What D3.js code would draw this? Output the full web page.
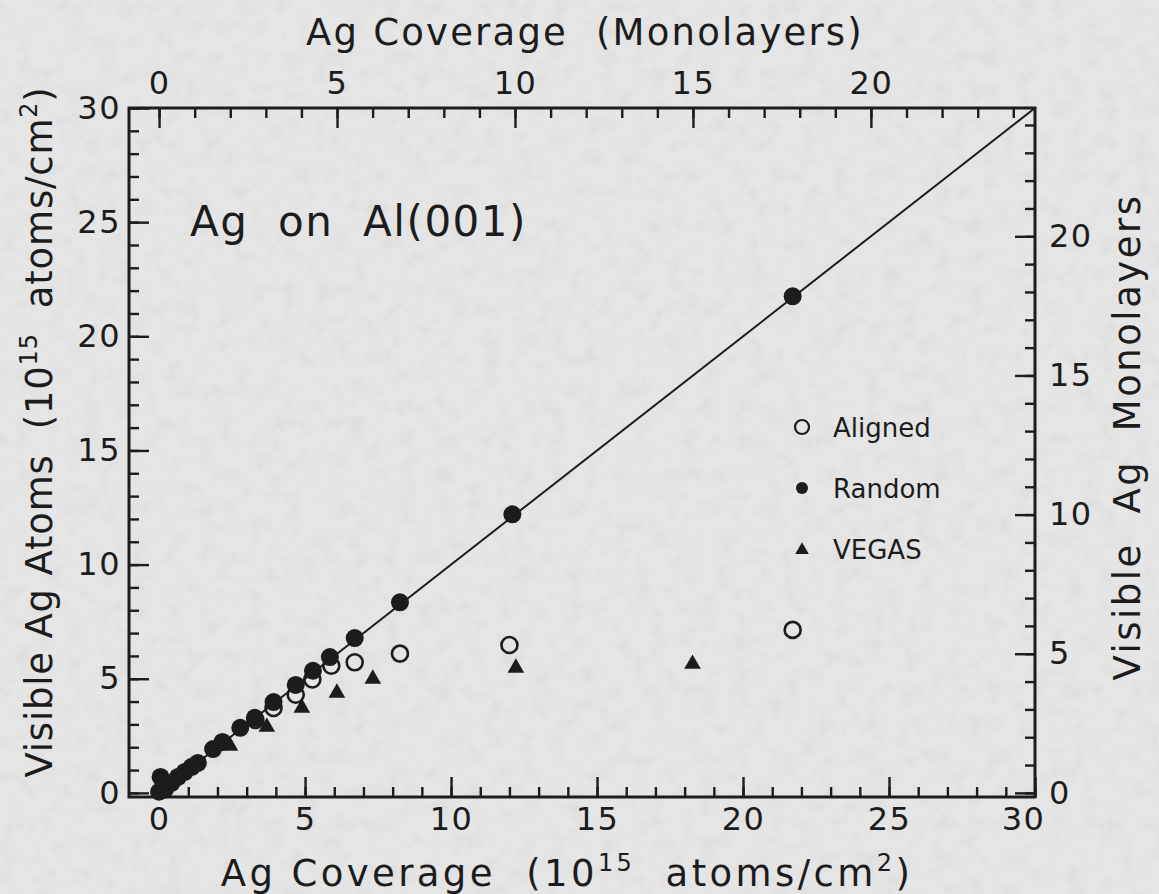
<!DOCTYPE html>
<html>
<head>
<meta charset="utf-8">
<script src="https://cdn.jsdelivr.net/npm/d3@7"></script>
<style>
  html, body { margin: 0; padding: 0; background: #e4e4e4; }
  svg { display: block; }
  text { font-family: "DejaVu Sans", "Liberation Sans", sans-serif; fill: #1c1c1c; }
</style>
</head>
<body>
<svg id="chart" width="1159" height="894"></svg>
<script>
// Surface atom density of Al(001), in 10^15 atoms/cm^2 per monolayer
const monolayer = 1.219;

// Aligned-geometry measurements: [coverage, visible atoms] (10^15 atoms/cm^2)
const alignedX = [21.7, 12.0, 8.25, 6.7, 5.9, 5.25, 4.68, 3.92, 3.3];
const alignedY = [7.14, 6.48, 6.1, 5.72, 5.57, 4.97, 4.3, 3.72, 3.2];

// Random-geometry measurements
const randomX = [21.7, 12.1, 8.25, 6.7, 5.85, 5.27, 4.68, 3.92, 3.28, 2.78, 2.17, 1.85, 1.33, 1.12, 0.88, 0.65, 0.43, 0.05, 0.0, 0.2];
const randomY = [21.75, 12.2, 8.35, 6.78, 5.95, 5.35, 4.73, 3.98, 3.29, 2.85, 2.23, 1.92, 1.31, 1.14, 0.92, 0.7, 0.44, 0.7, 0.05, 0.15];

// VEGAS simulation results
const vegasX = [18.27, 12.22, 7.32, 6.09, 4.89, 3.69, 2.43];
const vegasY = [5.69, 5.52, 5.04, 4.42, 3.77, 2.93, 2.1];

// Tick values
const atomMajor = [0, 5, 10, 15, 20, 25, 30];
const atomMinor = d3.range(0, 31, 1);
const mlMajor = [0, 5, 10, 15, 20];
const mlMinor = d3.range(0, 25, 1);

const legendItems = ["Aligned", "Random", "VEGAS"];

const svg = d3.select("#chart");

// Paper texture
const defs = svg.append("defs");
const flt = defs.append("filter").attr("id", "paper").attr("x", 0).attr("y", 0).attr("width", "100%").attr("height", "100%");
flt.append("feTurbulence").attr("type", "fractalNoise").attr("baseFrequency", 0.06).attr("numOctaves", 3).attr("seed", 7).attr("result", "n");
flt.append("feColorMatrix").attr("type", "matrix")
  .attr("values", "0 0 0 0 0  0 0 0 0 0  0 0 0 0 0  0 0 0 -0.9 0.5");
svg.append("rect").attr("width", 1159).attr("height", 894).attr("fill", "#e5e5e5");
svg.append("rect").attr("width", 1159).attr("height", 894).attr("filter", "url(#paper)").attr("opacity", 0.07);

const L = 129, R = 1035, T = 108, B = 797;
const x = d3.scaleLinear().domain([-1.03, 30]).range([L, R]);
const y = d3.scaleLinear().domain([-0.18, 30]).range([B, T]);
const xML = d3.scaleLinear().domain(x.domain().map(v => v / monolayer)).range([L, R]);
const yML = d3.scaleLinear().domain(y.domain().map(v => v / monolayer)).range([B, T]);

const ink = "#1c1c1c";

function styleAxis(g, fontSize) {
  g.select(".domain").remove();
  g.selectAll(".tick line").attr("stroke", ink).attr("stroke-width", 2.4);
  g.selectAll(".tick text").attr("font-size", fontSize).attr("fill", ink).attr("letter-spacing", 1.5);
}

function drawAxis(axisFn, scale, major, minor, transform, pad) {
  svg.append("g").attr("transform", transform)
    .call(axisFn(scale).tickValues(minor).tickSize(-10).tickFormat(""))
    .call(g => styleAxis(g, 0));
  svg.append("g").attr("transform", transform).attr("class", "major")
    .call(axisFn(scale).tickValues(major).tickSize(-20).tickPadding(pad).tickFormat(d3.format("d")))
    .call(g => styleAxis(g, 32));
}

drawAxis(d3.axisBottom, x, atomMajor, atomMinor, `translate(0,${B})`, 10);
drawAxis(d3.axisLeft, y, atomMajor, atomMinor, `translate(${L},0)`, 8);
drawAxis(d3.axisTop, xML, mlMajor, mlMinor, `translate(0,${T})`, 14);
drawAxis(d3.axisRight, yML, mlMajor, mlMinor, `translate(${R},0)`, 14);

// Keep the last bottom label clear of the right-hand "0"
svg.selectAll("g.major .tick text").filter(function (d) {
  return d === 30 && this.parentNode.parentNode.getAttribute("transform") === `translate(0,${B})`;
}).attr("dx", -12);

// Frame
svg.append("rect").attr("x", L).attr("y", T).attr("width", R - L).attr("height", B - T)
  .attr("fill", "none").attr("stroke", ink).attr("stroke-width", 3);

// y = x reference line
svg.append("line")
  .attr("x1", x(0)).attr("y1", y(0)).attr("x2", x(30)).attr("y2", y(30))
  .attr("stroke", ink).attr("stroke-width", 2);

// Data marks
const tri = d3.symbol().type(d3.symbolTriangle);
const zip = (a, b) => a.map((v, i) => [v, b[i]]);

svg.append("g").selectAll("circle").data(zip(alignedX, alignedY)).join("circle")
  .attr("cx", d => x(d[0])).attr("cy", d => y(d[1])).attr("r", 8)
  .attr("fill", "none").attr("stroke", ink).attr("stroke-width", 2.6);

svg.append("g").selectAll("circle").data(zip(randomX, randomY)).join("circle")
  .attr("cx", d => x(d[0])).attr("cy", d => y(d[1])).attr("r", 9)
  .attr("fill", ink);

svg.append("g").selectAll("path").data(zip(vegasX, vegasY)).join("path")
  .attr("transform", d => `translate(${x(d[0])},${y(d[1]) + 1})`)
  .attr("d", tri.size(120)).attr("fill", ink);

// Legend
const lg = svg.append("g").attr("transform", "translate(802,427)");
legendItems.forEach((name, i) => {
  const row = lg.append("g").attr("transform", `translate(0,${i * 61})`);
  if (i === 0) row.append("circle").attr("r", 7).attr("fill", "none").attr("stroke", ink).attr("stroke-width", 2.2);
  if (i === 1) row.append("circle").attr("r", 6).attr("fill", ink);
  if (i === 2) row.append("path").attr("d", tri.size(80)).attr("fill", ink).attr("transform", "translate(0,1)");
  row.append("text").attr("x", 31).attr("y", 10).attr("font-size", 26).text(name);
});

// Annotation
svg.append("text").attr("x", 190).attr("y", 236).attr("font-size", 42).attr("letter-spacing", 1.5)
  .attr("xml:space", "preserve").text("Ag  on  Al(001)");

// Axis titles
const titleSize = 37, supSize = 24, supShift = 15;

svg.append("text").attr("x", 585).attr("y", 45).attr("text-anchor", "middle")
  .attr("font-size", titleSize).attr("letter-spacing", 2.2)
  .attr("xml:space", "preserve").text("Ag Coverage  (Monolayers)");

function unitsTitle(sel, lead) {
  sel.append("tspan").text(lead + "  (10");
  sel.append("tspan").attr("dy", -supShift).attr("font-size", supSize).text("15");
  sel.append("tspan").attr("dy", supShift).text("  atoms/cm");
  sel.append("tspan").attr("dy", -supShift).attr("font-size", supSize).text("2");
  sel.append("tspan").attr("dy", supShift).text(")");
}

const bt = svg.append("text").attr("x", 567).attr("y", 886).attr("text-anchor", "middle")
  .attr("font-size", titleSize).attr("letter-spacing", 3.4).attr("xml:space", "preserve");
unitsTitle(bt, "Ag Coverage");

const lt = svg.append("text").attr("transform", "translate(52,432) rotate(-90)").attr("text-anchor", "middle")
  .attr("font-size", titleSize).attr("letter-spacing", 0.8).attr("xml:space", "preserve");
unitsTitle(lt, "Visible Ag Atoms");

svg.append("text").attr("transform", "translate(1140,437) rotate(-90)").attr("text-anchor", "middle")
  .attr("font-size", titleSize).attr("letter-spacing", 2.5).attr("xml:space", "preserve")
  .text("Visible  Ag  Monolayers");
</script>
</body>
</html>
